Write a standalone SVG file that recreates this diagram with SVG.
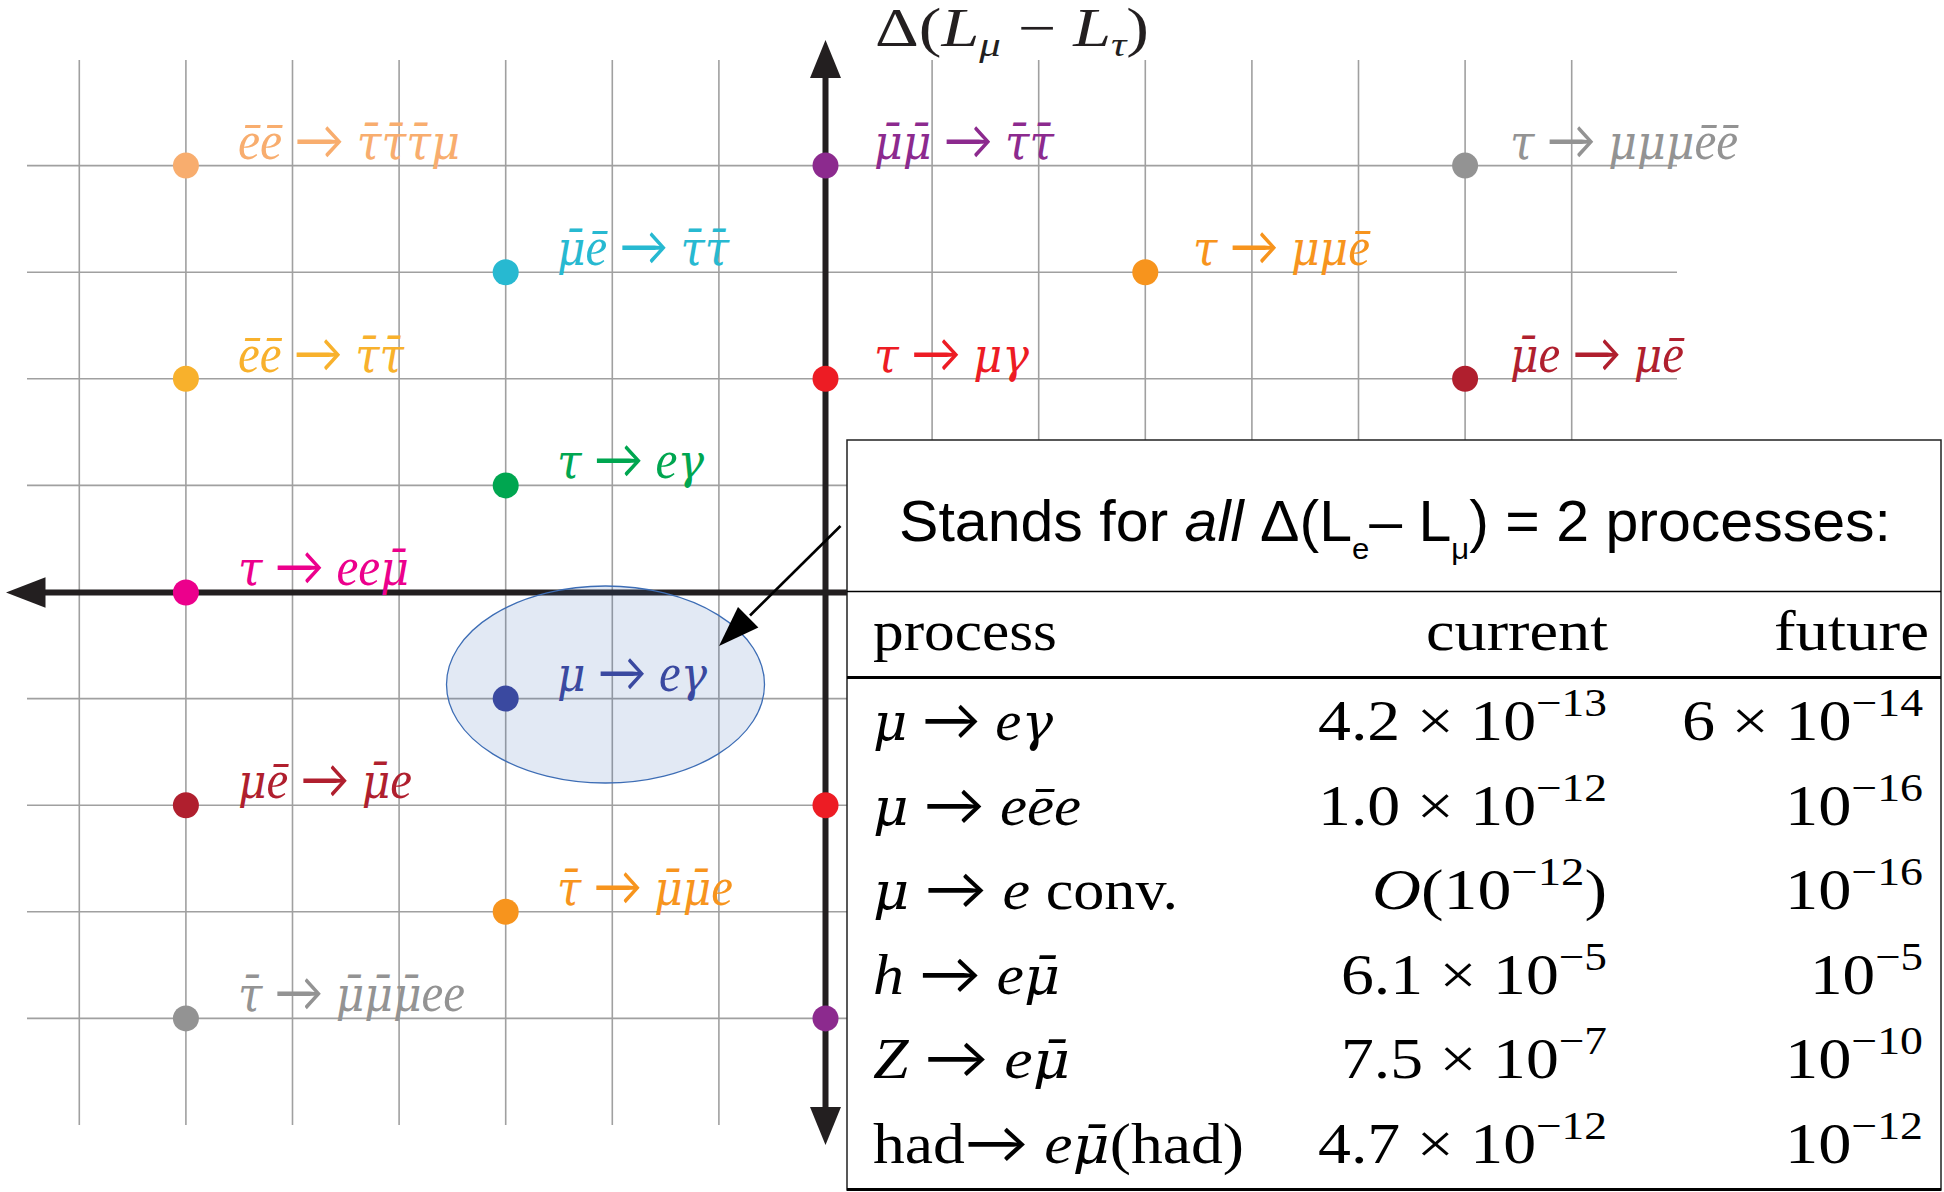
<svg xmlns="http://www.w3.org/2000/svg" width="1944" height="1192" viewBox="0 0 1944 1192">
<style>
.grid line{stroke:#a0a0a0;stroke-width:1.6}
.axis{stroke:#231f20;stroke-width:6;fill:none}
.head{fill:#231f20}
.lbl{font-family:"Liberation Serif",serif;font-style:italic;font-size:54px}
.tbl{font-family:"Liberation Serif",serif;font-size:58px;fill:#000}
.it{font-style:italic}
.up{font-style:normal}
.gk{font-family:"DejaVu Serif",serif;font-style:italic;font-size:0.9em}
.ar{font-family:Lato,"DejaVu Sans",sans-serif;font-style:normal}
.sans{font-family:"Liberation Sans",Arial,sans-serif;font-size:57px;fill:#000}
</style>
<rect width="1944" height="1192" fill="#fff"/>
<g class="grid">
<line x1="27" y1="165.6" x2="1677" y2="165.6"/>
<line x1="27" y1="272.2" x2="1677" y2="272.2"/>
<line x1="27" y1="378.8" x2="1677" y2="378.8"/>
<line x1="27" y1="485.4" x2="1677" y2="485.4"/>
<line x1="27" y1="698.6" x2="1677" y2="698.6"/>
<line x1="27" y1="805.2" x2="1677" y2="805.2"/>
<line x1="27" y1="911.8" x2="1677" y2="911.8"/>
<line x1="27" y1="1018.4" x2="1677" y2="1018.4"/>
<line x1="79.3" y1="60" x2="79.3" y2="1125"/>
<line x1="185.9" y1="60" x2="185.9" y2="1125"/>
<line x1="292.5" y1="60" x2="292.5" y2="1125"/>
<line x1="399.1" y1="60" x2="399.1" y2="1125"/>
<line x1="505.7" y1="60" x2="505.7" y2="1125"/>
<line x1="612.3" y1="60" x2="612.3" y2="1125"/>
<line x1="718.9" y1="60" x2="718.9" y2="1125"/>
<line x1="932.1" y1="60" x2="932.1" y2="1125"/>
<line x1="1038.7" y1="60" x2="1038.7" y2="1125"/>
<line x1="1145.3" y1="60" x2="1145.3" y2="1125"/>
<line x1="1251.9" y1="60" x2="1251.9" y2="1125"/>
<line x1="1358.5" y1="60" x2="1358.5" y2="1125"/>
<line x1="1465.1" y1="60" x2="1465.1" y2="1125"/>
<line x1="1571.7" y1="60" x2="1571.7" y2="1125"/>
</g>
<g id="axes">
<line class="axis" x1="825.5" y1="76" x2="825.5" y2="1109"/>
<line class="axis" x1="43" y1="592.5" x2="847" y2="592.5"/>
<polygon class="head" points="825.5,40 810,78 841,78"/>
<polygon class="head" points="825.5,1145 810,1107 841,1107"/>
<polygon class="head" points="6,592.5 45.5,577.3 45.5,607.7"/>
<text class="lbl" x="875" y="46" font-size="52" textLength="274" lengthAdjust="spacingAndGlyphs" fill="#231f20"><tspan class="up">Δ(</tspan>L<tspan font-size="34" dy="10">μ</tspan><tspan class="up" dy="-10"> − </tspan>L<tspan font-size="34" dy="10">τ</tspan><tspan class="up" dy="-10">)</tspan></text>
</g>
<ellipse id="highlight" cx="605.5" cy="684.5" rx="159" ry="98.5" fill="#3d6db5" fill-opacity="0.15" stroke="#3d6db5" stroke-width="1.3"/>
<g id="n1"><circle cx="185.9" cy="165.6" r="13" fill="#f8ad6e"/><text class="lbl" x="238" y="159" textLength="222" lengthAdjust="spacingAndGlyphs" fill="#f8ad6e">ēē <tspan class="ar">→</tspan> <tspan class="gk">τ̄τ̄τ̄μ</tspan></text></g>
<g id="n2"><circle cx="505.7" cy="272.2" r="13" fill="#27b9d1"/><text class="lbl" x="557" y="265" textLength="172" lengthAdjust="spacingAndGlyphs" fill="#27b9d1"><tspan class="gk">μ̄</tspan>ē <tspan class="ar">→</tspan> <tspan class="gk">τ̄τ̄</tspan></text></g>
<g id="n3"><circle cx="185.9" cy="378.8" r="13" fill="#f8b12c"/><text class="lbl" x="238" y="372" textLength="166" lengthAdjust="spacingAndGlyphs" fill="#f8b12c">ēē <tspan class="ar">→</tspan> <tspan class="gk">τ̄τ̄</tspan></text></g>
<g id="n4"><circle cx="505.7" cy="485.4" r="13" fill="#00a650"/><text class="lbl" x="557" y="478" textLength="147" lengthAdjust="spacingAndGlyphs" fill="#00a650"><tspan class="gk">τ</tspan> <tspan class="ar">→</tspan> e<tspan class="gk">γ</tspan></text></g>
<g id="n5"><circle cx="185.9" cy="592.5" r="13" fill="#ec008c"/><text class="lbl" x="238" y="585" textLength="171" lengthAdjust="spacingAndGlyphs" fill="#ec008c"><tspan class="gk">τ</tspan> <tspan class="ar">→</tspan> ee<tspan class="gk">μ̄</tspan></text></g>
<g id="n6"><circle cx="505.7" cy="698.6" r="13" fill="#3a49a0"/><text class="lbl" x="557" y="691" textLength="150" lengthAdjust="spacingAndGlyphs" fill="#3a49a0"><tspan class="gk">μ</tspan> <tspan class="ar">→</tspan> e<tspan class="gk">γ</tspan></text></g>
<g id="n7"><circle cx="185.9" cy="805.2" r="13" fill="#b01f2e"/><text class="lbl" x="238" y="798" textLength="174" lengthAdjust="spacingAndGlyphs" fill="#b01f2e"><tspan class="gk">μ</tspan>ē <tspan class="ar">→</tspan> <tspan class="gk">μ̄</tspan>e</text></g>
<g id="n8"><circle cx="505.7" cy="911.8" r="13" fill="#f7941d"/><text class="lbl" x="557" y="905" textLength="176" lengthAdjust="spacingAndGlyphs" fill="#f7941d"><tspan class="gk">τ̄</tspan> <tspan class="ar">→</tspan> <tspan class="gk">μ̄μ̄</tspan>e</text></g>
<g id="n9"><circle cx="185.9" cy="1018.4" r="13" fill="#939393"/><text class="lbl" x="238" y="1011" textLength="227" lengthAdjust="spacingAndGlyphs" fill="#939393"><tspan class="gk">τ̄</tspan> <tspan class="ar">→</tspan> <tspan class="gk">μ̄μ̄μ̄</tspan>ee</text></g>
<g id="n10"><circle cx="825.5" cy="165.6" r="13" fill="#8c2a8e"/><text class="lbl" x="874" y="159" textLength="180" lengthAdjust="spacingAndGlyphs" fill="#8c2a8e"><tspan class="gk">μ̄μ̄</tspan> <tspan class="ar">→</tspan> <tspan class="gk">τ̄τ̄</tspan></text></g>
<g id="n11"><circle cx="825.5" cy="378.8" r="13" fill="#ed1c24"/><text class="lbl" x="874" y="372" textLength="155" lengthAdjust="spacingAndGlyphs" fill="#ed1c24"><tspan class="gk">τ</tspan> <tspan class="ar">→</tspan> <tspan class="gk">μγ</tspan></text></g>
<g id="n12"><circle cx="825.5" cy="805.2" r="13" fill="#ed1c24"/></g>
<g id="n13"><circle cx="825.5" cy="1018.4" r="13" fill="#8c2a8e"/></g>
<g id="n14"><circle cx="1145.3" cy="272.2" r="13" fill="#f7941d"/><text class="lbl" x="1193" y="265" textLength="177" lengthAdjust="spacingAndGlyphs" fill="#f7941d"><tspan class="gk">τ</tspan> <tspan class="ar">→</tspan> <tspan class="gk">μμ</tspan>ē</text></g>
<g id="n15"><circle cx="1465.1" cy="165.6" r="13" fill="#939393"/><text class="lbl" x="1510" y="159" textLength="228" lengthAdjust="spacingAndGlyphs" fill="#939393"><tspan class="gk">τ</tspan> <tspan class="ar">→</tspan> <tspan class="gk">μμμ</tspan>ēē</text></g>
<g id="n16"><circle cx="1465.1" cy="378.8" r="13" fill="#b01f2e"/><text class="lbl" x="1510" y="372" textLength="174" lengthAdjust="spacingAndGlyphs" fill="#b01f2e"><tspan class="gk">μ̄</tspan>e <tspan class="ar">→</tspan> <tspan class="gk">μ</tspan>ē</text></g>
<g id="table">
<rect x="847" y="440" width="1094" height="750" fill="#fff" stroke="#222" stroke-width="1.5"/>
<line x1="847" y1="591.5" x2="1941" y2="591.5" stroke="#000" stroke-width="1.6"/>
<line x1="847" y1="677.5" x2="1941" y2="677.5" stroke="#000" stroke-width="3"/>
<line x1="847" y1="1189.5" x2="1941" y2="1189.5" stroke="#000" stroke-width="3"/>
<text class="sans" x="899" y="541" textLength="992" lengthAdjust="spacingAndGlyphs">Stands for <tspan font-style="italic">all</tspan> Δ(L<tspan font-size="30" dy="18">e</tspan><tspan dy="-18">– L</tspan><tspan font-size="30" dy="18">μ</tspan><tspan dy="-18">) = 2 processes:</tspan></text>
<text class="tbl" x="873" y="650" font-size="60" textLength="184" lengthAdjust="spacingAndGlyphs">process</text>
<text class="tbl" x="1426" y="650" font-size="60" textLength="182" lengthAdjust="spacingAndGlyphs">current</text>
<text class="tbl" x="1774" y="650" font-size="60" textLength="155" lengthAdjust="spacingAndGlyphs">future</text>
<text class="tbl it" x="873" y="740" textLength="180" lengthAdjust="spacingAndGlyphs"><tspan class="gk">μ</tspan> <tspan class="ar">→</tspan> e<tspan class="gk">γ</tspan></text>
<text class="tbl it" x="873" y="825" textLength="208" lengthAdjust="spacingAndGlyphs"><tspan class="gk">μ</tspan> <tspan class="ar">→</tspan> eēe</text>
<text class="tbl it" x="873" y="909" textLength="305" lengthAdjust="spacingAndGlyphs"><tspan class="gk">μ</tspan> <tspan class="ar">→</tspan> e<tspan class="up"> conv.</tspan></text>
<text class="tbl it" x="873" y="994" textLength="187" lengthAdjust="spacingAndGlyphs">h <tspan class="ar">→</tspan> e<tspan class="gk">μ̄</tspan></text>
<text class="tbl it" x="873" y="1078" textLength="197" lengthAdjust="spacingAndGlyphs">Z <tspan class="ar">→</tspan> e<tspan class="gk">μ̄</tspan></text>
<text class="tbl" x="873" y="1163" textLength="371" lengthAdjust="spacingAndGlyphs">had<tspan class="ar">→</tspan> <tspan class="it">e</tspan><tspan class="gk">μ̄</tspan>(had)</text>
<text class="tbl" x="1318" y="740" textLength="289" lengthAdjust="spacingAndGlyphs">4.2 × 10<tspan font-size="40" dy="-24">−13</tspan></text>
<text class="tbl" x="1318" y="825" textLength="289" lengthAdjust="spacingAndGlyphs">1.0 × 10<tspan font-size="40" dy="-24">−12</tspan></text>
<text class="tbl" x="1372" y="909" textLength="235" lengthAdjust="spacingAndGlyphs"><tspan class="it">O</tspan>(10<tspan font-size="40" dy="-24">−12</tspan><tspan dy="24">)</tspan></text>
<text class="tbl" x="1341" y="994" textLength="266" lengthAdjust="spacingAndGlyphs">6.1 × 10<tspan font-size="40" dy="-24">−5</tspan></text>
<text class="tbl" x="1341" y="1078" textLength="266" lengthAdjust="spacingAndGlyphs">7.5 × 10<tspan font-size="40" dy="-24">−7</tspan></text>
<text class="tbl" x="1318" y="1163" textLength="289" lengthAdjust="spacingAndGlyphs">4.7 × 10<tspan font-size="40" dy="-24">−12</tspan></text>
<text class="tbl" x="1682" y="740" textLength="241" lengthAdjust="spacingAndGlyphs">6 × 10<tspan font-size="40" dy="-24">−14</tspan></text>
<text class="tbl" x="1785" y="825" textLength="138" lengthAdjust="spacingAndGlyphs">10<tspan font-size="40" dy="-24">−16</tspan></text>
<text class="tbl" x="1785" y="909" textLength="138" lengthAdjust="spacingAndGlyphs">10<tspan font-size="40" dy="-24">−16</tspan></text>
<text class="tbl" x="1810" y="994" textLength="113" lengthAdjust="spacingAndGlyphs">10<tspan font-size="40" dy="-24">−5</tspan></text>
<text class="tbl" x="1785" y="1078" textLength="138" lengthAdjust="spacingAndGlyphs">10<tspan font-size="40" dy="-24">−10</tspan></text>
<text class="tbl" x="1785" y="1163" textLength="138" lengthAdjust="spacingAndGlyphs">10<tspan font-size="40" dy="-24">−12</tspan></text>
</g>
<g id="connectors">
<line x1="840.5" y1="526" x2="750" y2="615.5" stroke="#000" stroke-width="2.6"/>
<polygon points="719,646 738,606.9 758.4,627.5" fill="#000"/>
</g>
</svg>
